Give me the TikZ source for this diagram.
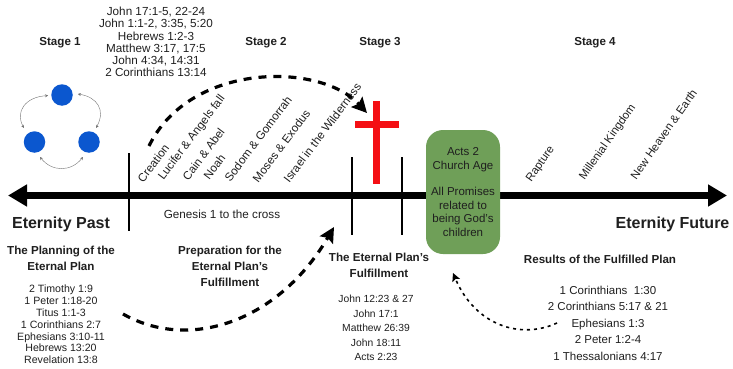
\documentclass[tikz,border=0pt]{standalone}
\usepackage{fontspec}
\setmainfont{Liberation Sans}
\usetikzlibrary{arrows.meta}
\definecolor{inkc}{HTML}{1F1F1F}
\definecolor{dotblue}{HTML}{0B57CF}
\definecolor{boxgreen}{HTML}{6F9F58}
\definecolor{crossred}{HTML}{F40F14}
\tikzset{
  txt/.style={inner sep=0pt,text=inkc,align=center},
  stagehead/.style={txt,font=\fontsize{11.6}{12}\selectfont\bfseries},
  headb/.style={txt,font=\fontsize{11.6}{16.2}\selectfont\bfseries},
  eternity/.style={txt,font=\fontsize{16}{17}\selectfont\bfseries},
  versesa/.style={txt,font=\fontsize{11.7}{12.3}\selectfont},
  versesb/.style={txt,font=\fontsize{10.6}{11.8}\selectfont},
  versesc/.style={txt,font=\fontsize{10.3}{14.5}\selectfont},
  versesd/.style={txt,font=\fontsize{11.5}{16.5}\selectfont},
  slant/.style={txt,anchor=west,rotate=53,font=\fontsize{11.6}{12}\selectfont},
  slantb/.style={txt,anchor=west,rotate=55,font=\fontsize{11.4}{12}\selectfont},
  tick/.style={draw=black,line width=2pt},
  person/.style={circle,fill=dotblue,minimum size=21.5pt,inner sep=0pt},
  loopline/.style={draw=black!55,line width=0.4pt,{Stealth[length=3pt,width=3pt]}-{Stealth[length=3pt,width=3pt]}},
  bolddash/.style={draw=black,line width=3.2pt,dash pattern=on 8pt off 7pt,-{Stealth[length=15pt,width=15pt,inset=2.5pt]}},
  thindash/.style={draw=black,line width=1.6pt,dash pattern=on 3pt off 4pt,-{Stealth[length=8pt,width=8pt,inset=1.5pt]}}
}
\begin{document}
\begin{tikzpicture}[x=1pt,y=-1pt]
\useasboundingbox (0,0) rectangle (733,369);
% axis
\coordinate (axisL) at (8,195.5);
\coordinate (axisR) at (727,195.5);
\draw[line width=6.5pt,{Triangle[length=19pt,width=21pt]}-{Triangle[length=19pt,width=21pt]}] (axisL) -- (axisR);
% ticks
\coordinate (t1a) at (128.5,153); \coordinate (t1b) at (128.5,231);
\coordinate (t2a) at (351.7,157); \coordinate (t2b) at (351.7,235);
\coordinate (t3a) at (401.7,157); \coordinate (t3b) at (401.7,235);
\draw[tick] (t1a) -- (t1b);
\draw[tick] (t2a) -- (t2b);
\draw[tick,line width=1.6pt] (t3a) -- (t3b);
% cross
\coordinate (crossT) at (376.7,101); \coordinate (crossB) at (376.7,184);
\coordinate (crossL) at (355,124); \coordinate (crossR) at (398.5,124);
\draw[crossred,line width=7pt] (crossT) -- (crossB);
\draw[crossred,line width=7pt] (crossL) -- (crossR);
% church-age box
\node[draw=none,fill=boxgreen,rounded corners=17pt,minimum width=74pt,minimum height=124pt,inner sep=0pt,
      text=inkc,align=center,font=\fontsize{11.5}{13.4}\selectfont] (church) at (463,192)
  {Acts 2\\Church Age\\[13.4pt]All Promises\\related to\\being God's\\children};
% trinity
\node[person] (p1) at (62,95) {};
\node[person] (p2) at (34.5,142) {};
\node[person] (p3) at (89,142) {};
\draw[loopline] (p1.183) ++(-3,0) .. controls (25,97) and (15,112) .. (24,128);
\draw[loopline] (p1.5) ++(5,0) .. controls (97,97) and (106,110) .. (96,128);
\draw[loopline] (40,157) .. controls (52,172) and (71,172) .. (83,157);
% stage labels
\node[stagehead] (s1) at (60,43) {Stage 1};
\node[stagehead] (s2) at (266,43) {Stage 2};
\node[stagehead] (s3) at (380,43) {Stage 3};
\node[stagehead] (s4) at (595,43) {Stage 4};
% top verses
\node[versesa] (vtop) at (156,42) {John 17:1-5, 22-24\\John 1:1-2, 3:35, 5:20\\Hebrews 1:2-3\\Matthew 3:17, 17:5\\John 4:34, 14:31\\2 Corinthians 13:14};
% slanted events
\node[slant] (e1) at (140,181) {Creation};
\node[slant] (e2) at (161,179) {Lucifer \& Angels fall};
\node[slant] (e3) at (185,179) {Cain \& Abel};
\node[slant] (e4) at (206,178) {Noah};
\node[slant] (e5) at (227,180) {Sodom \& Gomorrah};
\node[slant] (e6) at (255,181) {Moses \& Exodus};
\node[slant] (e7) at (286,181) {Israel in the Wilderness};
\node[slantb] (e8) at (529,181) {Rapture};
\node[slantb] (e9) at (582,179) {Millenial Kingdom};
\node[slantb] (e10) at (633,178) {New Heaven \& Earth};
% axis captions
\node[eternity] (past) at (61,224) {Eternity Past};
\node[eternity] (future) at (672.5,224) {Eternity Future};
\node[versesa] (gen) at (222,214) {Genesis 1 to the cross};
% headings
\node[headb] (h1) at (61,258) {The Planning of the\\Eternal Plan};
\node[headb] (h2) at (230,266.5) {Preparation for the\\Eternal Plan's\\Fulfillment};
\node[headb] (h3) at (379,265) {The Eternal Plan's\\Fulfillment};
\node[headb] (h4) at (600,259) {Results of the Fulfilled Plan};
% verse lists
\node[versesb] (v1) at (61,324.5) {2 Timothy 1:9\\1 Peter 1:18-20\\Titus 1:1-3\\1 Corinthians 2:7\\Ephesians 3:10-11\\Hebrews 13:20\\Revelation 13:8};
\node[versesc] (v3) at (376,328) {John 12:23 \& 27\\John 17:1\\Matthew 26:39\\John 18:11\\Acts 2:23};
\node[versesd] (v4) at (608,323) {1 Corinthians\ \ 1:30\\2 Corinthians 5:17 \& 21\\Ephesians 1:3\\2 Peter 1:2-4\\1 Thessalonians 4:17};
% dashed arcs
\coordinate (a1s) at (149,146); \coordinate (a1e) at (367,113);
\coordinate (a2s) at (123,314); \coordinate (a2e) at (334,227);
\coordinate (a3s) at (557,323); \coordinate (a3e) at (453,273);
\draw[bolddash] (a1s) .. controls (190,62) and (320,62) .. (a1e);
\draw[bolddash] (a2s) .. controls (190,352) and (279,321) .. (a2e);
\draw[thindash] (a3s) .. controls (520,340) and (475,325) .. (a3e);
\end{tikzpicture}
\end{document}
